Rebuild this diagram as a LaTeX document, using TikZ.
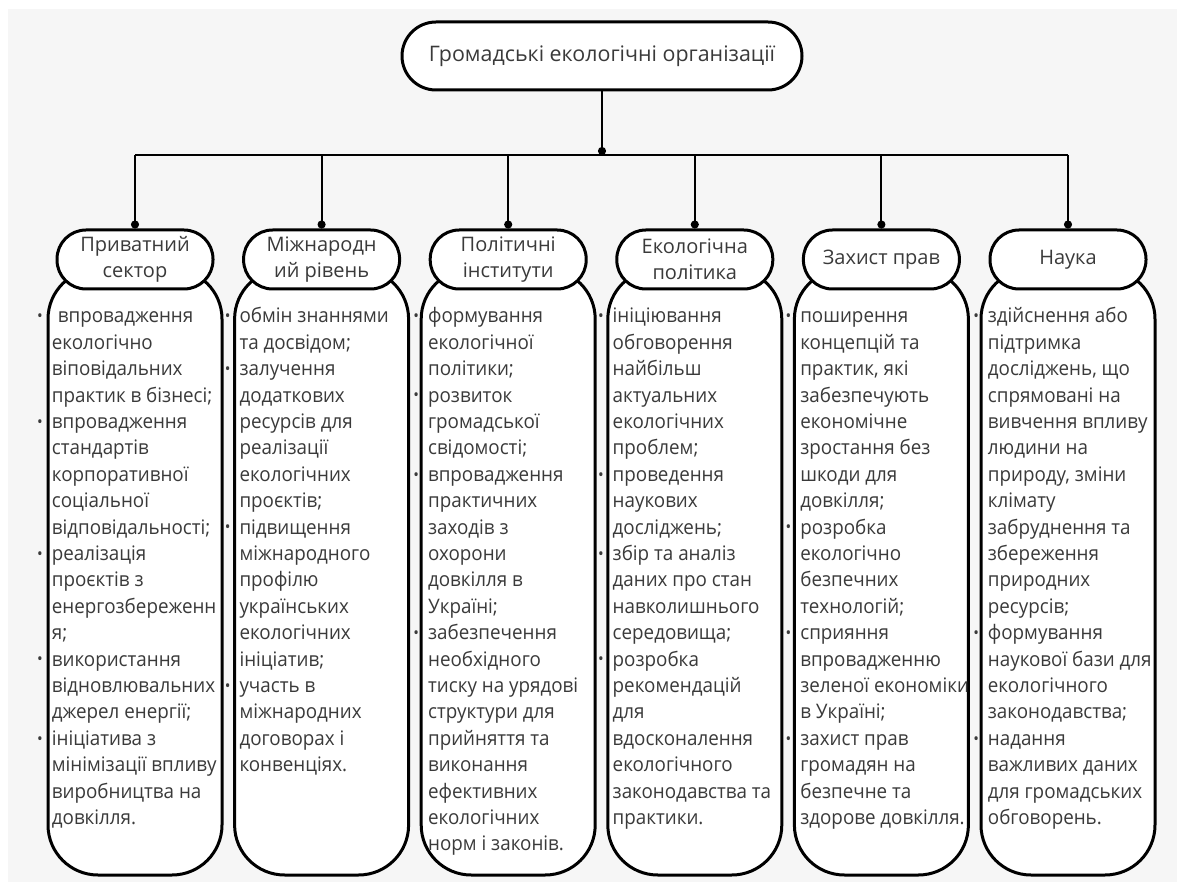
\documentclass[tikz,border=0pt]{standalone}
\usepackage{fontspec}
\setmainfont{Open Sans}
\newfontfamily\bodyfont{Open Sans}[FakeStretch=0.94]
\usetikzlibrary{arrows.meta, positioning}
\definecolor{bggray}{HTML}{F6F6F6}
\definecolor{inkgray}{HTML}{3A3A3A}
\newcommand{\bulletmark}{\llap{\raisebox{0.6pt}{\fontsize{8}{8}\selectfont\textbullet}\hspace{4.5pt}}}

\begin{document}
\begin{tikzpicture}[x=0.5pt, y=-0.5pt, >=Stealth, node distance=4.8pt,
    title/.style={draw, fill=white, line width=1.5pt, rounded corners=17pt, minimum width=200pt, minimum height=34pt, font=\fontsize{10.7}{13}\selectfont, text=inkgray},
    head/.style={draw, fill=white, line width=1.5pt, rounded corners=14.5pt, minimum width=78pt, minimum height=29.5pt, align=center, inner sep=2pt, font=\fontsize{10}{13}\selectfont, text=inkgray},
    panel/.style={draw, fill=white, line width=1.5pt, rounded corners=25pt, minimum width=87pt, minimum height=303pt},
    items/.style={anchor=north west, align=left, inner sep=0pt, font=\bodyfont\fontsize{10}{13.2}\selectfont, text=inkgray},
    link/.style={line width=1pt, -{Circle[length=4pt]}}]
        \useasboundingbox (0,0) rectangle (1190,882);
        \fill[white] (0,0) rectangle (1190,882);
        \fill[bggray] (8,9) rectangle (1177,882);
        % lower panels
        \node[panel] (b1) at (135,572) {};
        \node[panel, right=of b1] (b2) {};
        \node[panel, right=of b2] (b3) {};
        \node[panel, right=of b3] (b4) {};
        \node[panel, right=of b4] (b5) {};
        \node[panel, right=of b5] (b6) {};
        % headers
        \node[title] (org) at (602,56) {Громадські екологічні організації};
        \node[head] (h1) at ([yshift=4pt]b1.north) {Приватний\\сектор};
        \node[head] (h2) at ([yshift=4pt]b2.north) {Міжнародн\\ий рівень};
        \node[head] (h3) at ([yshift=4pt]b3.north) {Політичні\\інститути};
        \node[head] (h4) at ([yshift=4pt]b4.north) {Екологічна\\політика};
        \node[head] (h5) at ([yshift=4pt]b5.north) {Захист прав};
        \node[head] (h6) at ([yshift=4pt]b6.north) {Наука};
        % connectors
        \coordinate (bar) at (602,155);
        \draw[link] (org.south) -- (bar);
        \draw[line width=1pt] (h1.north |- bar) -- (h6.north |- bar);
        \draw[link] (h1.north |- bar) -- (h1.north);
        \draw[link] (h2.north |- bar) -- (h2.north);
        \draw[link] (h3.north |- bar) -- (h3.north);
        \draw[link] (h4.north |- bar) -- (h4.north);
        \draw[link] (h5.north |- bar) -- (h5.north);
        \draw[link] (h6.north |- bar) -- (h6.north);
        % lists
        \node[items] (t1) at ([xshift=2.5pt, yshift=-18.25pt]b1.north west) {\strut\bulletmark\hspace{3pt}впровадження\\екологічно\\віповідальних\\практик в бізнесі;\\\bulletmark впровадження\\стандартів\\корпоративної\\соціальної\\відповідальності;\\\bulletmark реалізація\\проєктів з\\енергозбереженн\\я;\\\bulletmark використання\\відновлювальних\\джерел енергії;\\\bulletmark ініціатива з\\мінімізації впливу\\виробництва на\\довкілля.};
        \node[items] (t2) at ([xshift=3pt, yshift=-18.25pt]b2.north west) {\strut\bulletmark обмін знаннями\\та досвідом;\\\bulletmark залучення\\додаткових\\ресурсів для\\реалізації\\екологічних\\проєктів;\\\bulletmark підвищення\\міжнародного\\профілю\\українських\\екологічних\\ініціатив;\\\bulletmark участь в\\міжнародних\\договорах і\\конвенціях.};
        \node[items] (t3) at ([xshift=4pt, yshift=-18.25pt]b3.north west) {\strut\bulletmark формування\\екологічної\\політики;\\\bulletmark розвиток\\громадської\\свідомості;\\\bulletmark впровадження\\практичних\\заходів з\\охорони\\довкілля в\\Україні;\\\bulletmark забезпечення\\необхідного\\тиску на урядові\\структури для\\прийняття та\\виконання\\ефективних\\екологічних\\норм і законів.};
        \node[items] (t4) at ([xshift=3pt, yshift=-18.25pt]b4.north west) {\strut\bulletmark ініціювання\\обговорення\\найбільш\\актуальних\\екологічних\\проблем;\\\bulletmark проведення\\наукових\\досліджень;\\\bulletmark збір та аналіз\\даних про стан\\навколишнього\\середовища;\\\bulletmark розробка\\рекомендацій\\для\\вдосконалення\\екологічного\\законодавства та\\практики.};
        \node[items] (t5) at ([xshift=3.5pt, yshift=-18.25pt]b5.north west) {\strut\bulletmark поширення\\концепцій та\\практик, які\\забезпечують\\економічне\\зростання без\\шкоди для\\довкілля;\\\bulletmark розробка\\екологічно\\безпечних\\технологій;\\\bulletmark сприяння\\впровадженню\\зеленої економіки\\в Україні;\\\bulletmark захист прав\\громадян на\\безпечне та\\здорове довкілля.};
        \node[items] (t6) at ([xshift=4pt, yshift=-18.25pt]b6.north west) {\strut\bulletmark здійснення або\\підтримка\\досліджень, що\\спрямовані на\\вивчення впливу\\людини на\\природу, зміни\\клімату\\забруднення та\\збереження\\природних\\ресурсів;\\\bulletmark формування\\наукової бази для\\екологічного\\законодавства;\\\bulletmark надання\\важливих даних\\для громадських\\обговорень.};
    \end{tikzpicture}
\end{document}
